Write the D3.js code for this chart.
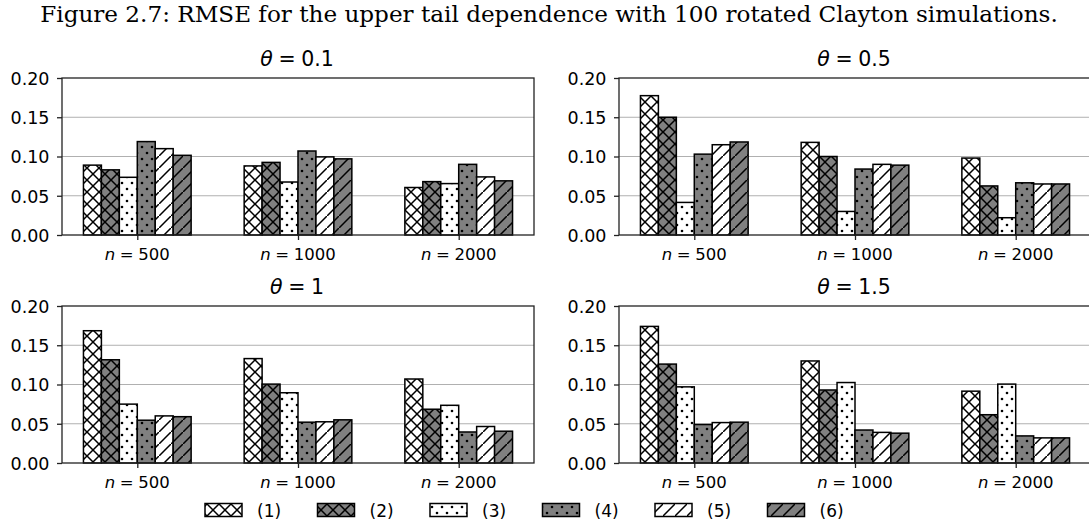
<!DOCTYPE html>
<html><head><meta charset="utf-8">
<script src="https://cdn.jsdelivr.net/npm/d3@7"></script>
<style>html,body{margin:0;padding:0;background:#fff;overflow:hidden}svg{display:block}</style>
</head><body><svg id="c" width="1089" height="524"></svg>
<script>
// ---- data ----
const sampleSizes = ["500", "1000", "2000"];
const seriesLabels = ["(1)", "(2)", "(3)", "(4)", "(5)", "(6)"];
const yTicks = [0, 0.05, 0.10, 0.15, 0.20];
const thetaLabels = ["0.1", "0.5", "1", "1.5"];
// values per sample size (rows) and series (columns)
const rmseTheta01 = [
  [0.089, 0.083, 0.0735, 0.119, 0.110, 0.1015],
  [0.088, 0.0925, 0.0675, 0.107, 0.0995, 0.097],
  [0.0605, 0.068, 0.0655, 0.090, 0.074, 0.069]
];
const rmseTheta05 = [
  [0.1775, 0.150, 0.0415, 0.103, 0.115, 0.1185],
  [0.118, 0.100, 0.030, 0.084, 0.090, 0.089],
  [0.098, 0.0625, 0.022, 0.0665, 0.065, 0.065]
];
const rmseTheta1 = [
  [0.1685, 0.1315, 0.075, 0.0545, 0.060, 0.059],
  [0.133, 0.1005, 0.0895, 0.052, 0.0525, 0.055],
  [0.107, 0.0685, 0.0735, 0.0395, 0.0465, 0.0405]
];
const rmseTheta15 = [
  [0.174, 0.126, 0.097, 0.049, 0.0515, 0.052],
  [0.130, 0.093, 0.1025, 0.042, 0.039, 0.038],
  [0.0915, 0.0615, 0.1005, 0.0345, 0.032, 0.032]
];
const panelData = [rmseTheta01, rmseTheta05, rmseTheta1, rmseTheta15];
const seriesFill = ["#ffffff", "#808080", "#ffffff", "#808080", "#ffffff", "#808080"];
const seriesHatch = ["cross", "cross", "dots", "dots", "slash", "slash"];

// ---- layout ----
const svg = d3.select("#c");
const FONT = "DejaVu Sans, sans-serif";
const panels = [
  {l: 62, r: 534, t: 78, b: 235},
  {l: 619, r: 1091, t: 78, b: 235},
  {l: 62, r: 534, t: 306, b: 463},
  {l: 619, r: 1091, t: 306, b: 463}
];

// ---- hatch patterns ----
const defs = svg.append("defs");
const P = 12;
seriesFill.forEach((fill, k) => {
  const type = seriesHatch[k];
  let pat;
  if (type === "dots") {
    const w = 10, h = 12;
    pat = defs.append("pattern").attr("id", "h" + k).attr("patternUnits", "userSpaceOnUse")
      .attr("width", w).attr("height", h).attr("x", 2).attr("y", 3);
    pat.append("rect").attr("width", w).attr("height", h).attr("fill", fill);
    [[0,0],[w,0],[0,h],[w,h],[w/2,h/2]].forEach(([cx,cy]) =>
      pat.append("circle").attr("cx", cx).attr("cy", cy).attr("r", 1.3).attr("fill", "#000"));
  } else {
    pat = defs.append("pattern").attr("id", "h" + k).attr("patternUnits", "userSpaceOnUse")
      .attr("width", P).attr("height", P).attr("x", 3).attr("y", 0);
    pat.append("rect").attr("width", P).attr("height", P).attr("fill", fill);
    const lines = [`M${-1},${P+1} L${P+1},${-1} M${-P-1},${1} L${1},${-P-1} M${P-1},${2*P+1} L${2*P+1},${P-1}`];
    if (type === "cross") lines.push(`M${-1},${-1} L${P+1},${P+1} M${-P-1},${-1} L${1},${P+1} M${P-1},${-1} L${2*P+1},${P+1}`);
    lines.forEach(d => pat.append("path").attr("d", d).attr("stroke", "#000")
      .attr("stroke-width", 1.5).attr("fill", "none"));
  }
});

// ---- title ----
const title = svg.append("text").attr("x", 549).attr("y", 22).attr("text-anchor", "middle")
  .attr("font-family", "DejaVu Serif, serif").attr("font-size", 20).attr("fill", "#000")
  .text("Figure 2.7: RMSE for the upper tail dependence with 100 rotated Clayton simulations.");
const tw = title.node().getComputedTextLength();
title.attr("font-size", 20 * 1018 / tw);

// ---- panels ----
panels.forEach((p, pi) => {
  const data = panelData[pi];
  const x = d3.scaleLinear().domain([-0.4685, 2.4685]).range([p.l, p.r]);
  const y = d3.scaleLinear().domain([0, 0.2]).range([p.b, p.t]);
  const g = svg.append("g");
  const groupW = 0.67, bw = groupW / seriesLabels.length;

  // grid
  g.selectAll(".grid").data(yTicks.filter(v => v > 0 && v < 0.2)).join("line")
    .attr("x1", p.l).attr("x2", p.r).attr("y1", d => y(d)).attr("y2", d => y(d))
    .attr("stroke", "#b0b0b0").attr("stroke-width", 1);

  // bars
  data.forEach((row, gi) => {
    row.forEach((v, si) => {
      const x0 = x(gi - groupW / 2 + si * bw), x1 = x(gi - groupW / 2 + (si + 1) * bw);
      g.append("rect").attr("x", x0).attr("width", x1 - x0)
        .attr("y", y(v)).attr("height", y(0) - y(v))
        .attr("fill", `url(#h${si})`).attr("stroke", "#000").attr("stroke-width", 1.5);
    });
  });

  // spines
  g.append("rect").attr("x", p.l).attr("y", p.t).attr("width", p.r - p.l).attr("height", p.b - p.t)
    .attr("fill", "none").attr("stroke", "#222").attr("stroke-width", 1.3);

  // y axis
  const ya = g.append("g").attr("transform", `translate(${p.l},0)`)
    .call(d3.axisLeft(y).tickValues(yTicks).tickFormat(d3.format(".2f")).tickSize(5).tickPadding(7.5));
  ya.select(".domain").remove();
  ya.selectAll("line").attr("stroke", "#222").attr("stroke-width", 1.3);
  ya.selectAll("text").attr("font-family", FONT).attr("font-size", 17.5).attr("fill", "#000").attr("dy", "0.36em");

  // x axis
  const xa = g.append("g").attr("transform", `translate(0,${p.b})`)
    .call(d3.axisBottom(x).tickValues([0, 1, 2]).tickSize(5).tickFormat(""));
  xa.select(".domain").remove();
  xa.selectAll("line").attr("stroke", "#222").attr("stroke-width", 1.3);
  sampleSizes.forEach((s, i) => {
    const t = g.append("text").attr("x", x(i)).attr("y", p.b + 25).attr("text-anchor", "middle")
      .attr("font-family", FONT).attr("font-size", 16.5).attr("fill", "#000");
    t.append("tspan").attr("font-style", "italic").text("n");
    t.append("tspan").attr("dx", 4.6).text("=");
    t.append("tspan").attr("dx", 4.6).text(s);
  });

  // panel title
  const tt = g.append("text").attr("x", (p.l + p.r) / 2 - 1).attr("y", p.t - 12)
    .attr("text-anchor", "middle").attr("font-family", FONT).attr("font-size", 20.5).attr("fill", "#000");
  tt.append("tspan").attr("font-style", "italic").text("θ");
  tt.append("tspan").attr("dx", 5.7).text("=");
  tt.append("tspan").attr("dx", 5.7).text(thetaLabels[pi]);
});

// ---- legend ----
const lg = svg.append("g");
seriesLabels.forEach((s, i) => {
  const lx = 205 + i * 112.5;
  lg.append("rect").attr("x", lx).attr("y", 503.5).attr("width", 37).attr("height", 13)
    .attr("fill", `url(#h${i})`).attr("stroke", "#000").attr("stroke-width", 1.5);
  lg.append("text").attr("x", lx + 52).attr("y", 516.5).attr("font-family", FONT)
    .attr("font-size", 17).attr("fill", "#000").text(s);
});
</script></body></html>
